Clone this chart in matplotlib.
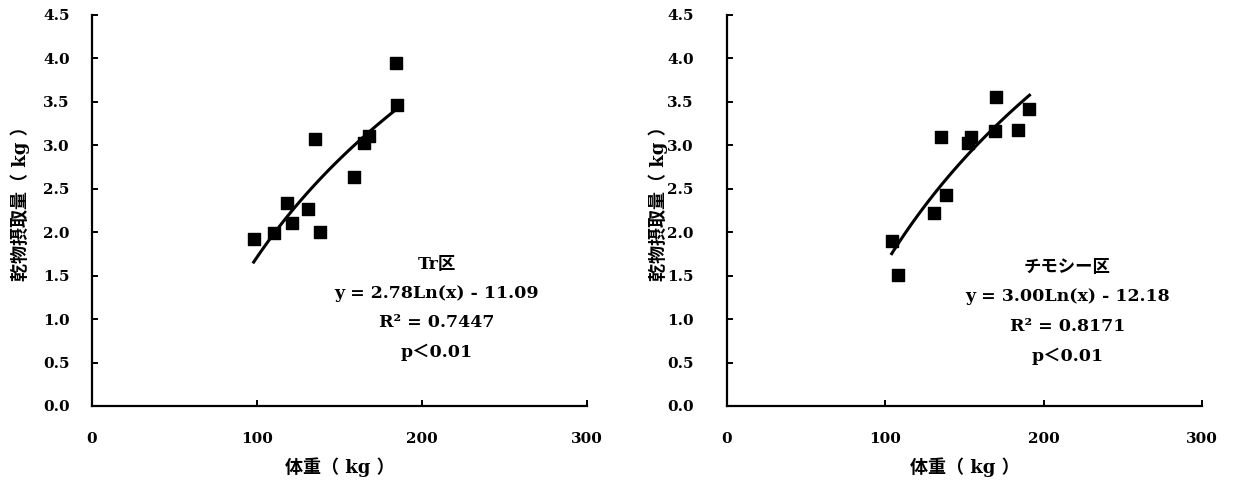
import numpy as np
import matplotlib.pyplot as plt

plt.rcParams['font.family'] = ['DejaVu Serif', 'Noto Sans CJK JP']
plt.rcParams['font.weight'] = 'bold'

# ==================== Data ====================
tr_weight = [98, 110, 118, 121, 131, 135, 138, 159, 165, 168, 184, 185]
tr_intake = [1.92, 1.99, 2.34, 2.11, 2.27, 3.07, 2.00, 2.63, 3.03, 3.11, 3.95, 3.46]
tr_coef = (2.78, -11.09)
tr_text = 'Tr区\ny = 2.78Ln(x) - 11.09\nR² = 0.7447\np＜0.01'

ti_weight = [104, 108, 131, 135, 138, 152, 154, 169, 170, 184, 191]
ti_intake = [1.90, 1.51, 2.22, 3.09, 2.43, 3.03, 3.10, 3.16, 3.56, 3.18, 3.42]
ti_coef = (3.00, -12.18)
ti_text = 'チモシー区\ny = 3.00Ln(x) - 12.18\nR² = 0.8171\np＜0.01'

x_ticks = [0, 100, 200, 300]
y_ticks = np.arange(0, 4.51, 0.5)

xlabel = '体重（ kg ）'
ylabel = '乾物摂取量（ kg ）'

# ==================== Plot ====================
fig = plt.figure(figsize=(12.57, 4.8), dpi=100)
ax1 = fig.add_axes([0.0732, 0.1542, 0.3938, 0.8146])
ax2 = fig.add_axes([0.5784, 0.1542, 0.3779, 0.8146])


def draw(ax, wx, wy, coef, text, ypad, tx, ty):
    ax.scatter(wx, wy, marker='s', s=85, color='black', zorder=3)
    xs = np.linspace(min(wx), max(wx), 100)
    ax.plot(xs, coef[0] * np.log(xs) + coef[1], color='black', linewidth=2.2)
    ax.set_xlim(0, 300)
    ax.set_ylim(0, 4.5)
    ax.set_xticks(x_ticks)
    ax.set_yticks(y_ticks)
    ax.set_yticklabels(['%.1f' % v for v in y_ticks])
    for s in ['top', 'right']:
        ax.spines[s].set_visible(False)
    for s in ['left', 'bottom']:
        ax.spines[s].set_linewidth(1.6)
    ax.tick_params(axis='both', direction='in', length=4, width=1.4, labelsize=11)
    ax.tick_params(axis='x', pad=19)
    ax.tick_params(axis='y', pad=ypad)
    ax.set_xlabel(xlabel, fontsize=13, fontweight='bold')
    ax.set_ylabel(ylabel, fontsize=13, fontweight='bold')
    ax.xaxis.set_label_coords(0.5, -0.13)
    ax.yaxis.set_label_coords(-0.125, 0.53)
    ax.text(tx, ty, text, ha='center', va='top', fontsize=12.5,
            fontweight='bold', linespacing=1.95)


draw(ax1, tr_weight, tr_intake, tr_coef, tr_text, 16, 209, 1.73)
draw(ax2, ti_weight, ti_intake, ti_coef, ti_text, 24, 215, 1.69)

plt.savefig('out.png', dpi=100)
